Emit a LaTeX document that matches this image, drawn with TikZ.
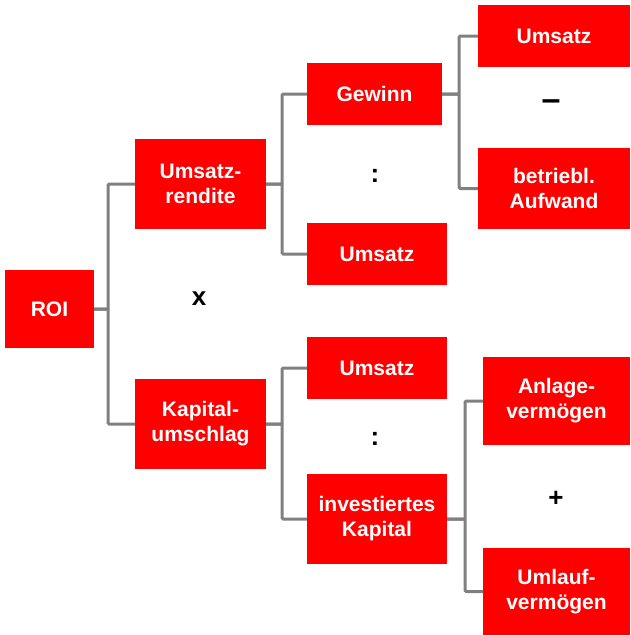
\documentclass[tikz,border=0pt]{standalone}
\usepackage{fontspec}
\setmainfont{Liberation Sans}
\usepackage{tikz}
\definecolor{roirot}{RGB}{255,0,0}
\definecolor{astgrau}{RGB}{128,128,128}
\tikzset{
  kennzahl/.style = {shape=rectangle, fill=roirot, text=white,
                     align=center, inner sep=0pt,
                     font=\bfseries\fontsize{21}{25}\selectfont},
  flach/.style    = {kennzahl, minimum height=62pt},
  hoch/.style     = {kennzahl, minimum height=90pt},
  op/.style       = {font=\bfseries\fontsize{26}{30}\selectfont},
  ast/.style      = {draw=astgrau, line width=3pt, rounded corners=1pt}
}

\begin{document}
\begin{tikzpicture}[x=1pt, y=-1pt]
  \useasboundingbox (0,0) rectangle (630,635);

  \node[kennzahl, minimum width=89pt, minimum height=78pt] (roi) at (49.5,309) {ROI};
  \node[hoch, minimum width=131pt] (rendite) at (200.5,184) {Umsatz-\\rendite};
  \node[hoch, minimum width=131pt] (umschlag) at (200.5,424) {Kapital-\\umschlag};

  \node[flach, minimum width=135pt] (gewinn) at (374.5,94) {Gewinn};
  \node[flach, minimum width=140pt] (umsatzR) at (377,254) {Umsatz};
  \node[flach, minimum width=140pt] (umsatzK) at (377,368) {Umsatz};
  \node[hoch, minimum width=140pt] (kapital) at (377,519) {investiertes\\Kapital};

  \node[flach, minimum width=152pt] (umsatzG) at (554,36) {Umsatz};
  \node[kennzahl, minimum width=152pt, minimum height=81pt] (aufwand) at (554,188.5) {betriebl.\\Aufwand};
  \node[kennzahl, minimum width=147pt, minimum height=88pt] (anlage) at (556.5,401) {Anlage-\\vermögen};
  \node[kennzahl, minimum width=147pt, minimum height=87pt] (umlauf) at (556.5,591.5) {Umlauf-\\vermögen};

  \node[op] (mal) at (199,299) {x};
  \node[op] (durchR) at (375,176) {:};
  \node[op, font=\bfseries\fontsize{34}{36}\selectfont] (minus) at (551,105) {\textendash};
  \node[op] (durchK) at (375,439) {:};
  \node[op] (plus) at (556,499) {+};

  \draw[ast] (roi.east) -- ++(14,0) |- (rendite.west);
  \draw[ast] (roi.east) -- ++(14,0) |- (umschlag.west);
  \draw[ast] (rendite.east) -- ++(16,0) |- (gewinn.west);
  \draw[ast] (rendite.east) -- ++(16,0) |- (umsatzR.west);
  \draw[ast] (gewinn.east) -- ++(17,0) |- (umsatzG.west);
  \draw[ast] (gewinn.east) -- ++(17,0) |- (aufwand.west);
  \draw[ast] (umschlag.east) -- ++(16,0) |- (umsatzK.west);
  \draw[ast] (umschlag.east) -- ++(16,0) |- (kapital.west);
  \draw[ast] (kapital.east) -- ++(18,0) |- (anlage.west);
  \draw[ast] (kapital.east) -- ++(18,0) |- (umlauf.west);
\end{tikzpicture}
\end{document}
